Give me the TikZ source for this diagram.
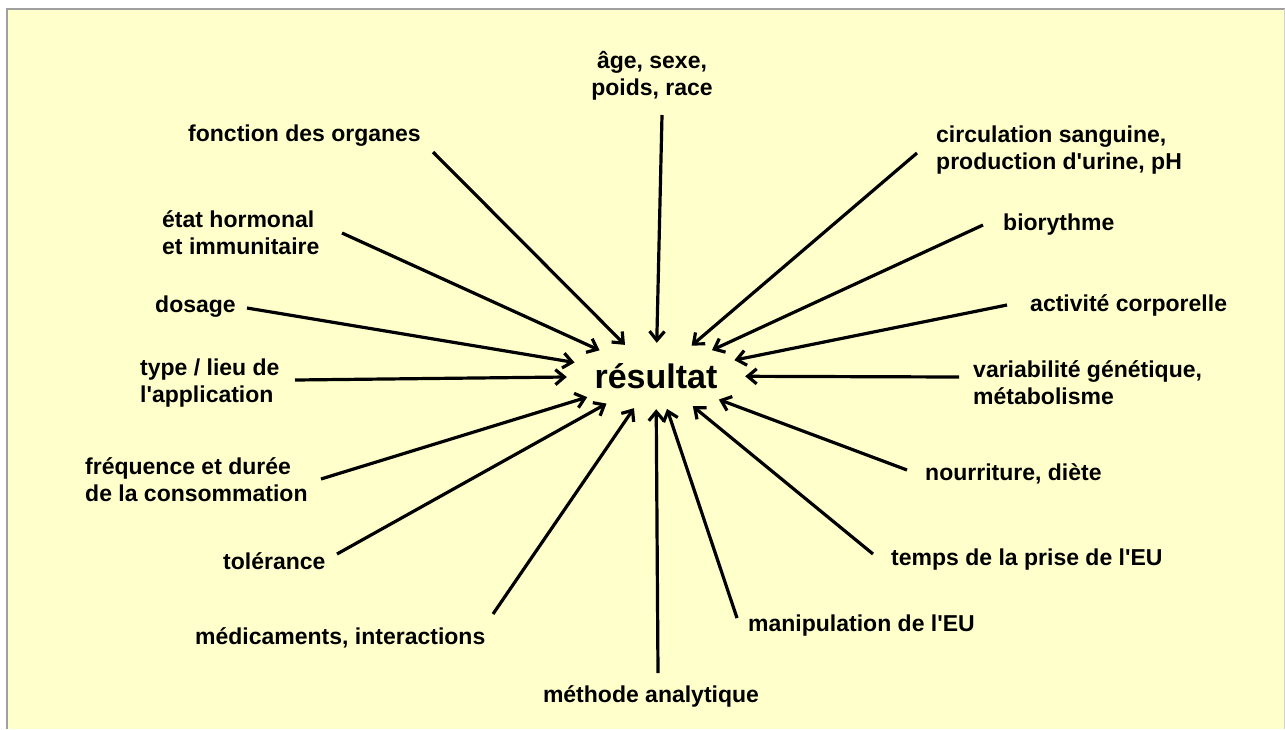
\documentclass[tikz,border=0pt]{standalone}
\usepackage{fontspec}
\setmainfont{Liberation Sans}
\usetikzlibrary{arrows.meta, shapes.geometric}

\definecolor{paper}{HTML}{FFFFCC}
\definecolor{frame}{HTML}{A0A0A0}

\begin{document}
\begin{tikzpicture}[x=1pt, y=-1pt,
    factor/.style={inner sep=0pt, yshift=-3pt, font=\fontsize{23}{27}\selectfont\bfseries},
    influence/.style={line width=3.2pt, -{Straight Barb[length=9pt,width=15pt]}}]
    % background
    \useasboundingbox (0,0) rectangle (1285,729);
    \fill[paper] (7,9) rectangle (1285,729);
    \draw[frame, line width=2.5pt] (7,729) -- (7,9) -- (1285,9);
    \draw[frame!50, line width=1pt] (1284.5,9) -- (1284.5,729);

    % centre
    \node[ellipse, inner sep=0pt, minimum width=178pt, minimum height=66pt,
        font=\fontsize{34}{40}\selectfont\bfseries] (res) at (656,376) {résultat};

    % factors
    \node[factor, align=center] (age) at (652,73) {âge, sexe,\\poids, race};
    \node[factor, anchor=west] (fonction) at (188,133) {fonction des organes};
    \node[factor, anchor=west, align=left] (etat) at (162,230) {état hormonal\\et immunitaire};
    \node[factor, anchor=west] (dosage) at (155,304) {dosage};
    \node[factor, anchor=west, align=left] (type) at (140,380) {type / lieu de\\l\textquotesingle application};
    \node[factor, anchor=west, align=left] (frequence) at (85,477) {fréquence et durée\\de la consommation};
    \node[factor, anchor=west] (tolerance) at (223,558) {tolérance};
    \node[factor, anchor=west] (medic) at (195,635) {médicaments, interactions};
    \node[factor] (methode) at (651,693) {méthode analytique};
    \node[factor, anchor=west] (manip) at (748,623) {manipulation de l\textquotesingle EU};
    \node[factor, anchor=west] (temps) at (891,557) {temps de la prise de l\textquotesingle EU};
    \node[factor, anchor=west] (nourriture) at (925,471) {nourriture, diète};
    \node[factor, anchor=west, align=left] (variab) at (973,380) {variabilité génétique,\\métabolisme};
    \node[factor, anchor=west] (activite) at (1030,302) {activité corporelle};
    \node[factor, anchor=west] (biorythme) at (1003,222) {biorythme};
    \node[factor, anchor=west, align=left] (circulation) at (936,147) {circulation sanguine,\\production d\textquotesingle urine, pH};

    % arrow tails
    \coordinate (age-t) at (662,115);
    \coordinate (fonction-t) at (433,152);
    \coordinate (etat-t) at (342,233);
    \coordinate (dosage-t) at (247,308);
    \coordinate (type-t) at (295,380);
    \coordinate (frequence-t) at (321,479);
    \coordinate (tolerance-t) at (337,554);
    \coordinate (medic-t) at (493,614);
    \coordinate (methode-t) at (658,673);
    \coordinate (manip-t) at (737,618);
    \coordinate (temps-t) at (873,554);
    \coordinate (nourriture-t) at (907,470);
    \coordinate (variab-t) at (959,377);
    \coordinate (activite-t) at (1007,305);
    \coordinate (biorythme-t) at (983,225);
    \coordinate (circulation-t) at (917,153);

    \foreach \n in {age, fonction, etat, dosage, type, frequence, tolerance, medic,
        methode, manip, temps, nourriture, variab, activite, biorythme, circulation}
        \draw[influence] (\n-t) -- (res);
\end{tikzpicture}
\end{document}
